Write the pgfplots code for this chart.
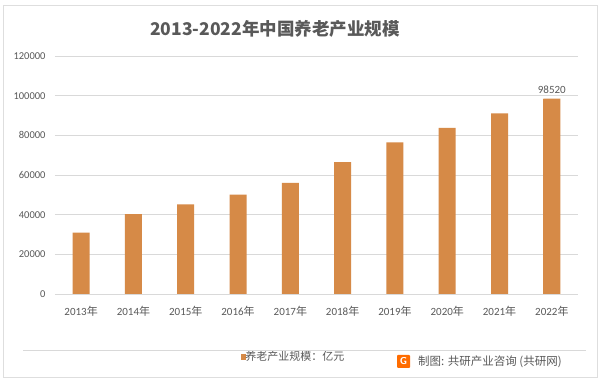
\documentclass[border=0pt]{standalone}
\usepackage{fontspec}
\usepackage{pgfplots}
\pgfplotsset{compat=1.18}
\setmainfont{Carlito}
\newfontfamily\cjk{Noto Sans CJK SC}
\definecolor{barc}{HTML}{D68A47}
\definecolor{txt}{HTML}{595959}
\definecolor{grd}{HTML}{D9D9D9}
\begin{document}
\begin{tikzpicture}[x=1pt,y=1pt]
\useasboundingbox (0,0) rectangle (600,382);
\fill[white] (0,0) rectangle (600,382);
\draw[color=grd!80!black!40!white, line width=0.8pt] (3,5) rectangle (597,377);
\begin{axis}[
  at={(55pt,88pt)}, anchor=south west,
  scale only axis, width=523pt, height=238pt,
  xmin=-0.5, xmax=9.5, ymin=0, ymax=120000,
  ytick={0,20000,40000,60000,80000,100000,120000},
  yticklabels={0,20000,40000,60000,80000,100000,120000},
  xtick={0,...,9},
  xticklabels={2013{\cjk 年},2014{\cjk 年},2015{\cjk 年},2016{\cjk 年},2017{\cjk 年},2018{\cjk 年},2019{\cjk 年},2020{\cjk 年},2021{\cjk 年},2022{\cjk 年}},
  scaled y ticks=false,
  axis line style={draw=none},
  major tick length=0pt,
  ymajorgrids, grid style={grd, line width=0.8pt},
  yticklabel style={font=\fontsize{10.5}{12}\selectfont, text=txt, xshift=-6pt},
  xticklabel style={font=\fontsize{11}{13}\selectfont, text=txt, yshift=-9pt},
  legend style={at={(0.355,-0.265)}, anchor=west, draw=none, fill=none,
    font=\cjk\fontsize{11}{13}\selectfont, text=txt, inner sep=0pt},
  legend image code/.code={\fill[barc] (0pt,-2.6pt) rectangle (5.4pt,2.6pt);},
  legend cell align=left,
]
\addplot[ybar, bar width=17pt, bar shift=0pt, fill=barc, draw=none]
  coordinates {(0,30900) (1,40300) (2,45200) (3,50100) (4,56000) (5,66500) (6,76500) (7,83700) (8,91100) (9,98520)};
\addlegendentry{\hspace{-3pt}养老产业规模：亿元}
\addplot[ybar, bar width=17pt, bar shift=0pt, fill=barc, draw=none,
  point meta=explicit symbolic,
  nodes near coords, every node near coord/.append style={font=\fontsize{11}{13}\selectfont, text=txt, yshift=1pt},
  forget plot]
  coordinates {(9,98520) [98520]};
\end{axis}
\node[font=\cjk\bfseries\fontsize{17.5}{20}\selectfont, text=txt] at (275,353) {2013-2022年中国养老产业规模};
\draw[grd, line width=0.8pt] (23,32) -- (586,32);
\fill[rounded corners=1pt, color=orange!85!red] (397,14) rectangle (410,27);
\node[font=\sffamily\bfseries\fontsize{10}{10}\selectfont, text=white] at (403.5,20.5) {G};
\node[font=\cjk\fontsize{11.5}{13}\selectfont, text=txt, anchor=west, inner sep=0pt] at (418,20) {制图: 共研产业咨询 (共研网)};
\end{tikzpicture}
\end{document}
